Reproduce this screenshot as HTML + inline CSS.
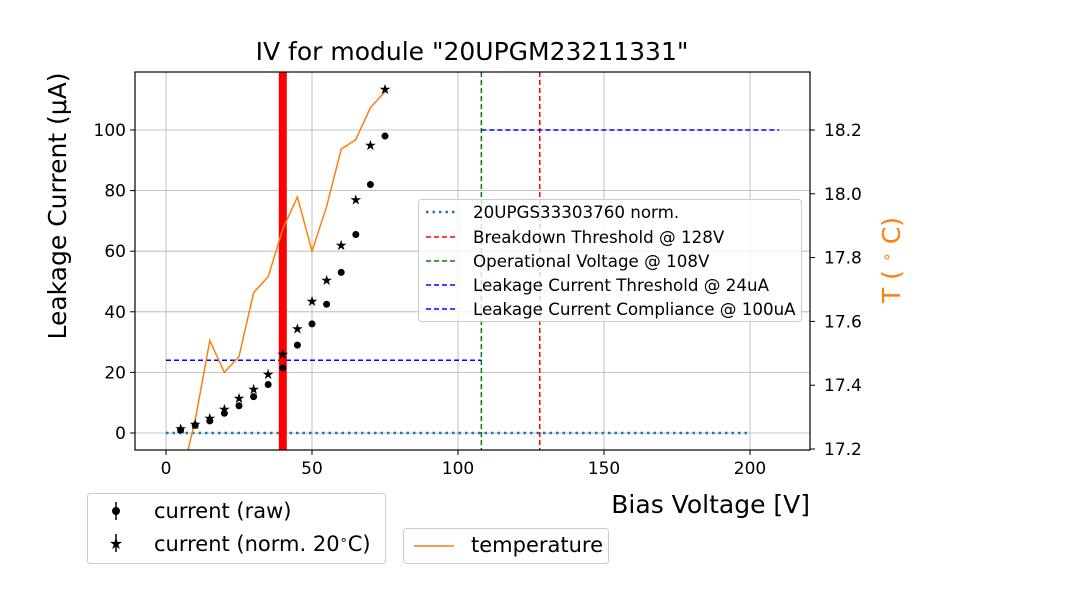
<!DOCTYPE html>
<html><head><meta charset="utf-8"><style>
body{margin:0;background:#fff}
svg text{font-family:"DejaVu Sans","Liberation Sans",sans-serif}
</style></head><body>
<svg id="c" width="1080" height="600" xmlns="http://www.w3.org/2000/svg">
<defs><clipPath id="pa"><rect x="135" y="72" width="675" height="378"/></clipPath></defs>
<rect x="0" y="0" width="1080" height="600" fill="#fff"/>
<g id="grid"></g>
<g id="marks" clip-path="url(#pa)"></g>
<rect x="135" y="72" width="675" height="378" fill="none" stroke="#000" stroke-width="1.2"/>
<g id="axes"></g>
<text x="472" y="60" font-size="25" text-anchor="middle">IV for module "20UPGM23211331"</text>
<text x="810" y="513" font-size="25" text-anchor="end">Bias Voltage [V]</text>
<text transform="translate(66,206) rotate(-90)" font-size="25" text-anchor="middle">Leakage Current (μA)</text>
<text transform="translate(900,260) rotate(-90)" font-size="25" fill="#ff7f0e" text-anchor="middle">T ( <tspan font-size="16" dy="-8">∘</tspan><tspan dy="8"> C)</tspan></text>
<g>
<rect x="418.5" y="199.5" width="383" height="122" rx="3" fill="#fff" fill-opacity="0.8" stroke="#ccc"/>
<g font-size="16.7">
<line x1="426" y1="212" x2="456" y2="212" stroke="#1f77b4" stroke-width="2.5" stroke-dasharray="2.5,4"/><text x="473" y="218">20UPGS33303760 norm.</text>
<line x1="426" y1="237" x2="456" y2="237" stroke="red" stroke-width="1.5" stroke-dasharray="5,3"/><text x="473" y="243">Breakdown Threshold @ 128V</text>
<line x1="426" y1="261" x2="456" y2="261" stroke="green" stroke-width="1.5" stroke-dasharray="5,3"/><text x="473" y="267">Operational Voltage @ 108V</text>
<line x1="426" y1="285" x2="456" y2="285" stroke="blue" stroke-width="1.5" stroke-dasharray="5,3"/><text x="473" y="291">Leakage Current Threshold @ 24uA</text>
<line x1="426" y1="309" x2="456" y2="309" stroke="blue" stroke-width="1.5" stroke-dasharray="5,3"/><text x="473" y="315">Leakage Current Compliance @ 100uA</text>
</g></g>
<g font-size="21">
<rect x="87.5" y="493.5" width="298" height="70" rx="3" fill="#fff" stroke="#ccc"/>
<line x1="116" y1="502" x2="116" y2="520" stroke="#000" stroke-width="1.5"/><circle cx="116" cy="511" r="4" fill="#000"/>
<text x="154" y="518">current (raw)</text>
<line x1="116" y1="534" x2="116" y2="552" stroke="#000" stroke-width="1.5"/><text x="116" y="549" font-size="16" text-anchor="middle">★</text>
<text x="154" y="551">current (norm. 20<tspan font-size="13" dy="-7">∘</tspan><tspan dy="7">C)</tspan></text>
</g>
<g font-size="21">
<rect x="403.5" y="528.5" width="205" height="35" rx="3" fill="#fff" stroke="#ccc"/>
<line x1="414" y1="546" x2="454" y2="546" stroke="#ff7f0e" stroke-width="1.5"/>
<text x="471" y="552">temperature</text>
</g>
</svg>
<script>
const voltages=[5,10,15,20,25,30,35,40,45,50,55,60,65,70,75];
const currentRaw=[1,2.5,4,6.5,9,12,16,21.5,29,36,42.5,53,65.5,82,98];
const currentNorm=[1.5,3,5,8,11.5,14.5,19.5,26,34.5,43.5,50.5,62,77,95,113.5];
const temperature=[17.1,17.29,17.54,17.44,17.49,17.69,17.74,17.89,17.99,17.82,17.96,18.14,18.17,18.27,18.32];
const xTicks=[0,50,100,150,200];
const yTicks=[0,20,40,60,80,100];
const y2Ticks=[17.2,17.4,17.6,17.8,18.0,18.2];
const NS="http://www.w3.org/2000/svg";
const X=v=>166+v*2.92, Y=v=>433-v*3.03, Y2=t=>130+(18.2-t)*319;
function mk(tag,at,parent){const e=document.createElementNS(NS,tag);for(const k in at)e.setAttribute(k,at[k]);document.getElementById(parent).appendChild(e);return e;}
xTicks.forEach(t=>{const g=mk('line',{x1:X(t),x2:X(t),y1:72,y2:450,stroke:'#b0b0b0','stroke-width':0.8},'grid');


mk('line',{x1:X(t),x2:X(t),y1:450,y2:455,stroke:'#000'},'axes');
const tx=mk('text',{x:X(t),y:474,'font-size':17,'text-anchor':'middle'},'axes');tx.textContent=t;

});
yTicks.forEach(t=>{const g=mk('line',{x1:135,x2:810,y1:Y(t),y2:Y(t),stroke:'#b0b0b0','stroke-width':0.8},'grid');


mk('line',{x1:130,x2:135,y1:Y(t),y2:Y(t),stroke:'#000'},'axes');
const tx=mk('text',{x:126,y:Y(t)+6,'font-size':17,'text-anchor':'end'},'axes');tx.textContent=t;

});
y2Ticks.forEach(t=>{mk('line',{x1:810,x2:815,y1:Y2(t),y2:Y2(t),stroke:'#000'},'axes');
const tx=mk('text',{x:824,y:Y2(t)+6,'font-size':17},'axes');tx.textContent=t.toFixed(1);

});
function ln(x1,y1,x2,y2,c,w,d,name){const l=mk('line',{x1,y1,x2,y2,stroke:c,'stroke-width':w},'marks');if(d)l.setAttribute('stroke-dasharray',d);

}
ln(X(0),Y(0),X(200),Y(0),'#1f77b4',2.5,'2.5,4','norm-reference-line');
ln(X(128),72,X(128),450,'red',1.5,'5,3','breakdown-threshold');
ln(X(108),72,X(108),450,'green',1.5,'5,3','operational-voltage');
ln(X(0),Y(24),X(108),Y(24),'blue',1.5,'5,3','leakage-threshold');
ln(X(108),Y(100),X(210),Y(100),'blue',1.5,'5,3','leakage-compliance');
ln(X(40),72,X(40),450,'red',8,null,'breakdown-marker');
const p=mk('polyline',{points:voltages.map((v,i)=>X(v)+','+Y2(temperature[i])).join(' '),fill:'none',stroke:'#ff7f0e','stroke-width':1.5},'marks');


voltages.forEach((v,i)=>{const c=mk('circle',{cx:X(v),cy:Y(currentRaw[i]),r:3.5,fill:'#000'},'marks');


const s=mk('text',{x:X(v),y:Y(currentNorm[i])+5,'font-size':14,'text-anchor':'middle'},'marks');s.textContent='★';

});
</script>
</body></html>
